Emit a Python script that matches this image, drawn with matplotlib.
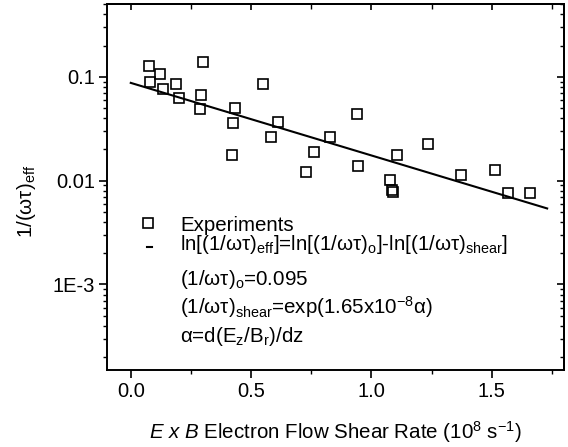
import numpy as np
import matplotlib
matplotlib.use("Agg")
import matplotlib.pyplot as plt
from matplotlib.ticker import FixedLocator, FixedFormatter, NullFormatter, LogLocator, MultipleLocator
from matplotlib.lines import Line2D

plt.rcParams['font.family'] = ['Liberation Sans', 'DejaVu Sans']
plt.rcParams['mathtext.fontset'] = 'custom'
plt.rcParams['mathtext.rm'] = 'Liberation Sans'
plt.rcParams['mathtext.it'] = 'Liberation Sans:italic'
plt.rcParams['mathtext.bf'] = 'Liberation Sans:bold'

# ---- data ----
shear_rate = [0.074, 0.080, 0.121, 0.132, 0.189, 0.201, 0.289, 0.292, 0.302,
              0.419, 0.423, 0.431, 0.551, 0.584, 0.610, 0.727, 0.763, 0.826,
              0.938, 0.946, 1.076, 1.087, 1.089, 1.106, 1.236, 1.374, 1.515,
              1.569, 1.657]
inv_omega_tau = [0.128, 0.0895, 0.106, 0.0762, 0.0845, 0.062, 0.0485, 0.0662, 0.139,
                 0.0175, 0.0363, 0.0496, 0.0857, 0.0261, 0.0369, 0.0121, 0.0188, 0.0262,
                 0.0434, 0.0137, 0.0101, 0.0082, 0.0077, 0.0177, 0.0226, 0.0113, 0.0126,
                 0.00757, 0.00769]
fit_x = [0.0, 1.73]
fit_y = [0.0875, 0.0054]

x_major = [0.0, 0.5, 1.0, 1.5]
x_major_labels = ["0.0", "0.5", "1.0", "1.5"]
y_major = [1e-3, 1e-2, 1e-1]
y_major_labels = ["1E-3", "0.01", "0.1"]

legend_lines = [
    "Experiments",
    "ln[(1/ωτ)$_{\\mathrm{eff}}$]=ln[(1/ωτ)$_{\\mathrm{o}}$]-ln[(1/ωτ)$_{\\mathrm{shear}}$]",
    "(1/ωτ)$_{\\mathrm{o}}$=0.095",
    "(1/ωτ)$_{\\mathrm{shear}}$=exp(1.65x10$^{\\mathrm{-8}}$α)",
    "α=d(E$_{\\mathrm{z}}$/B$_{\\mathrm{r}}$)/dz",
]

W, H = 568, 447
fig = plt.figure(figsize=(W / 100, H / 100), dpi=100)
L, R, T, B = 106.7, 564, 4.3, 370
ax = fig.add_axes([L / W, 1 - B / H, (R - L) / W, (B - T) / H])

FS = 14.8
TFS = 14.5
ax.set_yscale('log')
ax.set_xlim(-0.1, 1.8)
ax.set_ylim(1.5e-4, 0.5)

ax.plot(shear_rate, inv_omega_tau, linestyle='none', marker='s', markersize=7,
        markerfacecolor='none', markeredgecolor='black', markeredgewidth=1.2)
ax.plot(fit_x, fit_y, color='black', linewidth=1.5)

ax.xaxis.set_major_locator(FixedLocator(x_major))
ax.xaxis.set_major_formatter(FixedFormatter(x_major_labels))
ax.xaxis.set_minor_locator(MultipleLocator(0.25))
ax.yaxis.set_major_locator(FixedLocator(y_major))
ax.yaxis.set_major_formatter(FixedFormatter(y_major_labels))
ax.yaxis.set_minor_locator(LogLocator(base=10, subs=np.arange(2, 10), numticks=20))
ax.yaxis.set_minor_formatter(NullFormatter())

ax.tick_params(axis='both', which='major', direction='out', length=5.5, width=1.2,
               labelsize=TFS, pad=3)
ax.tick_params(axis='both', which='minor', direction='out', length=3.2, width=1.0)
for s in ax.spines.values():
    s.set_linewidth(1.4)

# mirrored ticks (inward) on top and right
secx = ax.secondary_xaxis('top')
secx.xaxis.set_major_locator(FixedLocator(x_major))
secx.xaxis.set_minor_locator(MultipleLocator(0.25))
secx.xaxis.set_major_formatter(NullFormatter())
secx.xaxis.set_minor_formatter(NullFormatter())
secx.tick_params(which='major', direction='in', length=4, width=1.2)
secx.tick_params(which='minor', direction='in', length=3.5, width=1.0)
secx.spines['top'].set_linewidth(1.4)

secy = ax.secondary_yaxis('right')
secy.yaxis.set_major_locator(FixedLocator(y_major))
secy.yaxis.set_minor_locator(LogLocator(base=10, subs=np.arange(2, 10), numticks=20))
secy.yaxis.set_major_formatter(NullFormatter())
secy.yaxis.set_minor_formatter(NullFormatter())
secy.tick_params(which='major', direction='in', length=5, width=1.2)
secy.tick_params(which='minor', direction='in', length=3, width=1.0)
secy.spines['right'].set_linewidth(1.4)

ax.set_xlabel("$\\mathit{E\\ x\\ B}$ Electron Flow Shear Rate (10$^{8}$ s$^{-1}$)",
              fontsize=FS, va='center')
ax.xaxis.set_label_coords(0.5, (B - 432) / (B - T))
ax.set_ylabel("1/(ωτ)$_{\\mathrm{eff}}$", fontsize=FS, va='center')
ax.yaxis.set_label_coords((26 - L) / (R - L), (B - 201) / (B - T))

# legend block
baselines = [230.7, 250, 285, 313.3, 341.7]
for txt, yb in zip(legend_lines, baselines):
    fig.text(180.5 / W, 1 - yb / H, txt, fontsize=FS, va='baseline', ha='left')
fig.add_artist(Line2D([148.3 / W], [1 - 223.3 / H], marker='s', markersize=6.5,
                      markerfacecolor='none', markeredgecolor='black',
                      markeredgewidth=1.2, linestyle='none'))
fig.add_artist(Line2D([146.5 / W, 151.5 / W], [1 - 246.5 / H, 1 - 246.5 / H],
                      color='black', linewidth=1.5))

fig.savefig("out.png", dpi=100)
